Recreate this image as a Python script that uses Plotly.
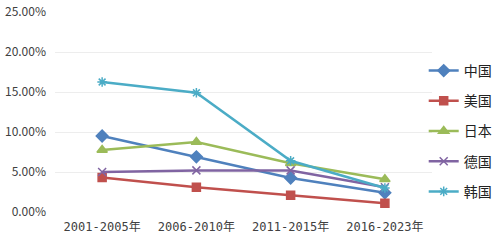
import plotly.graph_objects as go

categories = ["2001-2005年", "2006-2010年", "2011-2015年", "2016-2023年"]
china = [0.095, 0.069, 0.0425, 0.024]
usa = [0.043, 0.031, 0.021, 0.011]
japan = [0.0775, 0.0875, 0.061, 0.041]
germany = [0.050, 0.052, 0.052, 0.031]
korea = [0.1625, 0.149, 0.064, 0.030]
y_ticks = [0, 0.05, 0.10, 0.15, 0.20, 0.25]

series = [
    ("中国", china, "#4F81BD", "diamond", 9),
    ("美国", usa, "#C0504D", "square", 8),
    ("日本", japan, "#9BBB59", "triangle-up", 9),
    ("德国", germany, "#8064A2", "x-thin-open", 8),
    ("韩国", korea, "#4BACC6", "asterisk-open", 8),
]

fig = go.Figure()
for i, (name, vals, color, sym, sz) in enumerate(series):
    fig.add_trace(go.Scatter(
        x=categories, y=vals, name=name, mode="lines+markers",
        legendgroup=f"g{i}",
        line=dict(color=color, width=2.5),
        marker=dict(symbol=sym, size=sz, color=color,
                    line=dict(color=color, width=1.5)),
    ))

fig.update_layout(
    width=495, height=243,
    margin=dict(l=55, r=63, t=12, b=31, autoexpand=False),
    paper_bgcolor="white", plot_bgcolor="white",
    font=dict(family="Noto Sans CJK SC, sans-serif", color="#404040"),
    showlegend=True,
    legend=dict(x=0.978, xanchor="left", y=0.405, yanchor="middle",
                font=dict(size=14, color="#222222"),
                tracegroupgap=9, itemwidth=30, bgcolor="rgba(0,0,0,0)"),
    xaxis=dict(type="category", range=[-0.5, 3.5], showgrid=False, showline=False,
               zeroline=False, ticks="", ticklabelstandoff=6,
               tickfont=dict(family="DejaVu Sans Mono, Noto Sans CJK SC", size=12,
                             color="#404040")),
    yaxis=dict(range=[0, 0.25], tickvals=y_ticks, tickformat=".2%",
               showgrid=True, gridcolor="#EDEDED", gridwidth=1, zeroline=False,
               showline=False, ticklabelstandoff=8,
               tickfont=dict(size=12, color="#404040"), ticks=""),
)

fig.write_html("out.html")
